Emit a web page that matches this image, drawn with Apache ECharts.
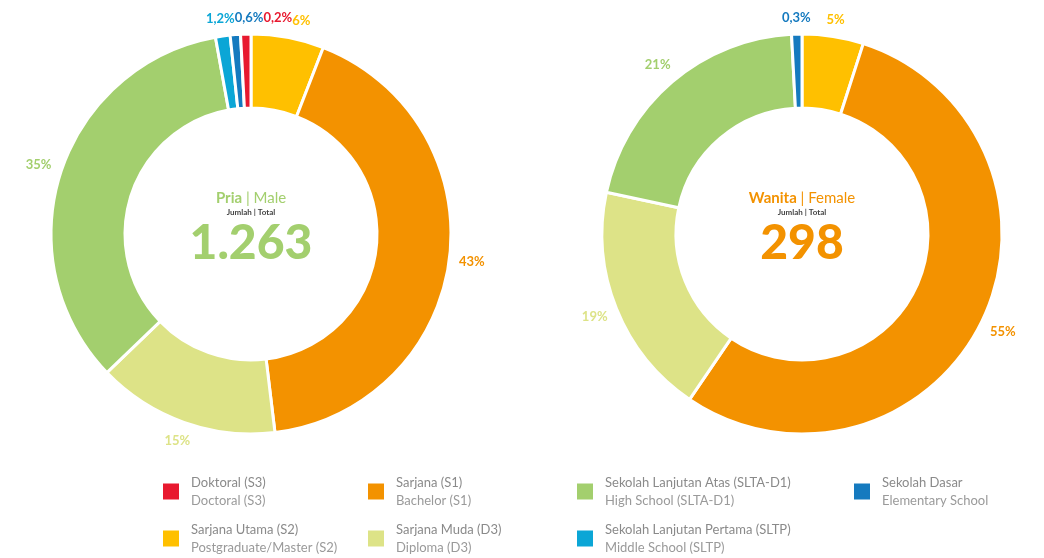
<!DOCTYPE html>
<html>
<head>
<meta charset="utf-8">
<script src="https://cdn.jsdelivr.net/npm/echarts@6/dist/echarts.min.js"></script>
<style>
  html, body { margin: 0; padding: 0; background: #fff; }
  #chart { width: 1044px; height: 558px; }
</style>
</head>
<body>
<div id="chart"></div>
<script>
// slices in clockwise order starting at 12 o'clock
const categories = ['Sarjana Utama (S2)', 'Sarjana (S1)', 'Sarjana Muda (D3)', 'Sekolah Lanjutan Atas (SLTA-D1)', 'Sekolah Lanjutan Pertama (SLTP)', 'Sekolah Dasar', 'Doktoral (S3)'];
const categoriesEn = ['Postgraduate/Master (S2)', 'Bachelor (S1)', 'Diploma (D3)', 'High School (SLTA-D1)', 'Middle School (SLTP)', 'Elementary School', 'Doctoral (S3)'];
const colors = ['#FFC000', '#F39200', '#DDE387', '#A3CF6E', '#0BA6D6', '#157ABF', '#E8192F'];

const maleValues = [6, 43, 15, 35, 1.2, 0.6, 0.2];     // %
const femaleValues = [5, 55, 19, 21, null, 0.3, null]; // %
const totals = [1263, 298];
const titles = [['Pria', 'Male'], ['Wanita', 'Female']];

// legend columns (as laid out under the charts)
const legendCols = [
  ['Doktoral (S3)', 'Sarjana Utama (S2)'],
  ['Sarjana (S1)', 'Sarjana Muda (D3)'],
  ['Sekolah Lanjutan Atas (SLTA-D1)', 'Sekolah Lanjutan Pertama (SLTP)'],
  ['Sekolah Dasar']
];

const FONT = 'Lato, "Open Sans", sans-serif';
const chart = echarts.init(document.getElementById('chart'));

const centers = [[251, 234], [802, 234]];
const titleColors = ['#A3CF6E', '#F39200'];
const LABEL_GAP = 9;

function fmtTotal(n) {
  return String(n).replace(/\B(?=(\d{3})+(?!\d))/g, '.');
}

// put the label centre just outside the ring along the slice's mid direction
function placeLabel(p) {
  const pts = p.labelLinePoints;
  if (!pts) return { align: 'center', verticalAlign: 'middle', moveOverlap: 'shiftX' };
  let ux = pts[1][0] - pts[0][0], uy = pts[1][1] - pts[0][1];
  const len = Math.hypot(ux, uy) || 1;
  ux /= len; uy /= len;
  const ext = Math.abs(ux) * p.labelRect.width / 2 + Math.abs(uy) * p.labelRect.height / 2;
  return {
    x: pts[0][0] + ux * (LABEL_GAP + ext),
    y: pts[0][1] + uy * (LABEL_GAP + ext),
    align: 'center',
    verticalAlign: 'middle',
    moveOverlap: 'shiftX'
  };
}

function buildSeries(values, center) {
  return {
    type: 'pie',
    center: center,
    radius: [126, 200],
    startAngle: 90,
    minAngle: 3,
    avoidLabelOverlap: false,
    itemStyle: { borderColor: '#fff', borderWidth: 3 },
    label: {
      show: true,
      position: 'outside',
      fontFamily: FONT,
      fontWeight: 'bold',
      fontSize: 13,
      formatter: p => String(p.value).replace('.', ',') + '%'
    },
    // line kept only for its geometry, drawn invisible
    labelLine: { show: true, length: 10, length2: 0, lineStyle: { width: 0, opacity: 0 } },
    labelLayout: placeLabel,
    emphasis: { disabled: true },
    data: categories.map((c, i) => ({
      name: c,
      value: values[i] == null ? '-' : values[i],
      itemStyle: { color: colors[i] },
      label: { color: colors[i] }
    }))
  };
}

const option = {
  animation: false,
  color: colors,
  title: centers.map((c, i) => ({
    left: c[0],
    top: 189,
    padding: 0,
    textAlign: 'center',
    text: '{a|' + titles[i][0] + '}{b| | ' + titles[i][1] + '}\n{c|Jumlah | Total}\n{d|' + fmtTotal(totals[i]) + '}',
    textStyle: {
      rich: {
        a: { fontFamily: FONT, fontSize: 15, fontWeight: 'bold', color: titleColors[i], lineHeight: 18 },
        b: { fontFamily: FONT, fontSize: 15, fontWeight: 'normal', color: titleColors[i], lineHeight: 18 },
        c: { fontFamily: FONT, fontSize: 8, fontWeight: 'bold', color: '#444', lineHeight: 10 },
        d: { fontFamily: FONT, fontSize: 48, fontWeight: 900, color: titleColors[i], lineHeight: 54 }
      }
    }
  })),
  legend: legendCols.map((col, k) => ({
    orient: 'vertical',
    left: [161, 366, 575, 852][k],
    top: 476,
    padding: 0,
    itemWidth: 18,
    itemHeight: 18,
    itemGap: 16,
    icon: 'rect',
    selectedMode: false,
    data: col,
    formatter: name => '{a|' + name + '}\n{b|' + categoriesEn[categories.indexOf(name)] + '}',
    textStyle: {
      padding: [0, 0, 0, 6],
      rich: {
        a: { fontFamily: FONT, fontSize: 13, color: '#8a8a8a', lineHeight: 18 },
        b: { fontFamily: FONT, fontSize: 13, color: '#9a9a9a', lineHeight: 18 }
      }
    }
  })),
  series: [
    buildSeries(maleValues, centers[0]),
    buildSeries(femaleValues, centers[1])
  ]
};

chart.setOption(option);
</script>
</body>
</html>
